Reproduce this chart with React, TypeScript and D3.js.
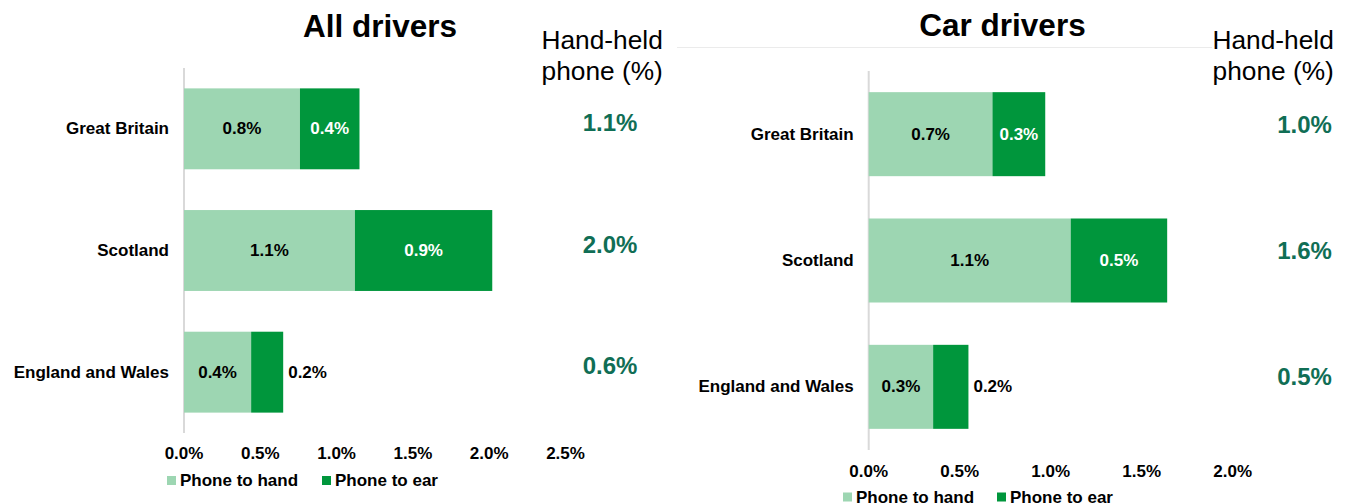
import React from "react";
import * as d3 from "d3";

const categories = ["Great Britain", "Scotland", "England and Wales"];
const seriesNames = ["Phone to hand", "Phone to ear"];

// All drivers (%)
const allHand = [0.76, 1.12, 0.44];
const allEar = [0.39, 0.9, 0.21];
const allHandLabels = ["0.8%", "1.1%", "0.4%"];
const allEarLabels = ["0.4%", "0.9%", "0.2%"];
const allTotal = ["1.1%", "2.0%", "0.6%"];
const allTicks = [0, 0.5, 1.0, 1.5, 2.0, 2.5];

// Car drivers (%)
const carHand = [0.68, 1.11, 0.354];
const carEar = [0.29, 0.53, 0.194];
const carHandLabels = ["0.7%", "1.1%", "0.3%"];
const carEarLabels = ["0.3%", "0.5%", "0.2%"];
const carTotal = ["1.0%", "1.6%", "0.5%"];
const carTicks = [0, 0.5, 1.0, 1.5, 2.0];

const LIGHT = "#9dd6b2";
const DARK = "#00963c";
const TEAL = "#106e55";
const FONT = "'Liberation Sans', Arial, Helvetica, sans-serif";

type PanelProps = {
  title: string;
  titleX: number;
  titleY: number;
  hand: number[];
  ear: number[];
  handLabels: string[];
  earLabels: string[];
  total: string[];
  ticks: number[];
  x0: number;
  pxPerUnit: number;
  yTop: number;
  yBottom: number;
  tickY: number;
  totalX: number;
  totalDy: number;
  headX: number;
  legendX: number;
  legendX2: number;
  legendY: number;
};

const fmt = (v: number) => v.toFixed(1) + "%";

function Panel(p: PanelProps) {
  const maxT = p.ticks[p.ticks.length - 1];
  const x = d3.scaleLinear().domain([0, maxT]).range([p.x0, p.x0 + maxT * p.pxPerUnit]);
  const y = d3
    .scaleBand<string>()
    .domain(categories)
    .range([p.yTop, p.yBottom])
    .paddingInner(0.335)
    .paddingOuter(0.1675);
  const bw = y.bandwidth();
  const fs = 17;
  return (
    <g fontFamily={FONT}>
      <text x={p.titleX} y={p.titleY} textAnchor="middle" fontSize={31.5} fontWeight="bold" fill="#000">
        {p.title}
      </text>
      <text x={p.headX} y={48.5} fontSize={26.3} fill="#000">Hand-held</text>
      <text x={p.headX} y={80} fontSize={26.3} fill="#000">phone (%)</text>
      <line x1={p.x0} x2={p.x0} y1={p.yTop} y2={p.yBottom} stroke="#d9d9d9" strokeWidth={2} />
      {categories.map((c, i) => {
        const y0 = y(c)!;
        const cy = y0 + bw / 2;
        const hEnd = x(p.hand[i]);
        const eEnd = x(p.hand[i] + p.ear[i]);
        const earW = eEnd - hEnd;
        const earInside = earW > 45;
        return (
          <g key={c}>
            <text x={p.x0 - 15} y={cy} textAnchor="end" dominantBaseline="central" fontSize={fs} fontWeight="bold" fill="#000">
              {c}
            </text>
            <rect x={x(0)} y={y0} width={hEnd - x(0)} height={bw} fill={LIGHT} />
            <rect x={hEnd} y={y0} width={earW} height={bw} fill={DARK} />
            <text x={(x(0) + hEnd) / 2} y={cy} textAnchor="middle" dominantBaseline="central" fontSize={fs} fontWeight="bold" fill="#000">
              {p.handLabels[i]}
            </text>
            <text
              x={earInside ? (hEnd + eEnd) / 2 : eEnd + 5}
              y={cy}
              textAnchor={earInside ? "middle" : "start"}
              dominantBaseline="central"
              fontSize={fs}
              fontWeight="bold"
              fill={earInside ? "#fff" : "#000"}
            >
              {p.earLabels[i]}
            </text>
            <text x={p.totalX} y={cy + p.totalDy} textAnchor="middle" dominantBaseline="central" fontSize={24} fontWeight="bold" fill={TEAL}>
              {p.total[i]}
            </text>
          </g>
        );
      })}
      {p.ticks.map((t) => (
        <text key={t} x={x(t)} y={p.tickY} textAnchor="middle" dominantBaseline="central" fontSize={fs} fontWeight="bold" fill="#000">
          {fmt(t)}
        </text>
      ))}
      <rect x={p.legendX} y={p.legendY - 4.5} width={9} height={9} fill={LIGHT} />
      <text x={p.legendX + 13} y={p.legendY} dominantBaseline="central" fontSize={fs} fontWeight="bold" fill="#000">
        {seriesNames[0]}
      </text>
      <rect x={p.legendX2} y={p.legendY - 4.5} width={9} height={9} fill={DARK} />
      <text x={p.legendX2 + 13} y={p.legendY} dominantBaseline="central" fontSize={fs} fontWeight="bold" fill="#000">
        {seriesNames[1]}
      </text>
    </g>
  );
}

export default function App() {
  return (
    <svg
      width={1345}
      height={504}
      style={{ position: "absolute", left: 0, top: 0, background: "#fff" }}
    >
      <rect width={1345} height={504} fill="#fff" />
      <line x1={677} x2={1212} y1={47.5} y2={47.5} stroke="#ebebeb" strokeWidth={1} />
      <Panel
        title="All drivers"
        titleX={380}
        titleY={37}
        hand={allHand}
        ear={allEar}
        handLabels={allHandLabels}
        earLabels={allEarLabels}
        total={allTotal}
        ticks={allTicks}
        x0={184}
        pxPerUnit={152.6}
        yTop={68}
        yBottom={433}
        tickY={453}
        totalX={610}
        totalDy={-6.5}
        headX={541.5}
        legendX={167}
        legendX2={322}
        legendY={480.5}
      />
      <Panel
        title="Car drivers"
        titleX={1002.5}
        titleY={36}
        hand={carHand}
        ear={carEar}
        handLabels={carHandLabels}
        earLabels={carEarLabels}
        total={carTotal}
        ticks={carTicks}
        x0={868.7}
        pxPerUnit={182}
        yTop={71}
        yBottom={450}
        tickY={471}
        totalX={1304.5}
        totalDy={-10}
        headX={1212.5}
        legendX={843}
        legendX2={997}
        legendY={497}
      />
    </svg>
  );
}
